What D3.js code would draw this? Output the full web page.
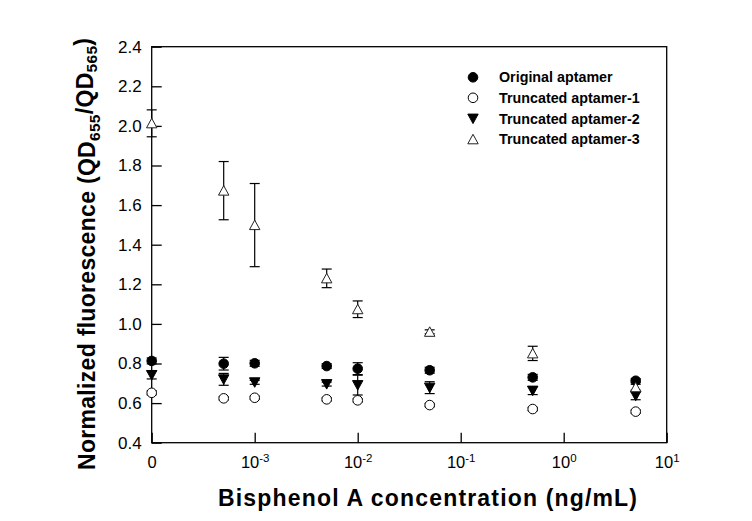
<!DOCTYPE html>
<html><head><meta charset="utf-8">
<script src="https://cdn.jsdelivr.net/npm/d3@7/dist/d3.min.js"></script>
<style>
body{margin:0;background:#fff;}
text{font-family:Arial,"Liberation Sans",sans-serif;}
</style></head>
<body><svg id="c" width="752" height="521"></svg>
<script>
// concentrations (ng/mL); 0 is drawn at the left axis position
const concentrations = [0, 5e-4, 1e-3, 5e-3, 1e-2, 5e-2, 5e-1, 5];
const seriesNames = ["Original aptamer","Truncated aptamer-1","Truncated aptamer-2","Truncated aptamer-3"];
const originalMean = [0.813, 0.799, 0.801, 0.787, 0.774, 0.766, 0.730, 0.713];
const originalErr  = [0.015, 0.032, 0.015, 0.012, 0.030, 0.015, 0.015, 0.010];
const trunc1Mean   = [0.652, 0.624, 0.627, 0.619, 0.614, 0.590, 0.570, 0.557];
const trunc1Err    = [0.010, 0.008, 0.008, 0.008, 0.008, 0.008, 0.008, 0.008];
const trunc2Mean   = [0.742, 0.720, 0.705, 0.696, 0.691, 0.678, 0.663, 0.637];
const trunc2Err    = [0.020, 0.030, 0.010, 0.010, 0.050, 0.030, 0.020, 0.020];
const trunc3Mean   = [2.013, 1.673, 1.499, 1.230, 1.074, 0.960, 0.851, 0.680];
const trunc3Err    = [0.068, 0.147, 0.210, 0.047, 0.042, 0.010, 0.036, 0.015];
const yTicks = [0.4,0.6,0.8,1.0,1.2,1.4,1.6,1.8,2.0,2.2,2.4];
const xTickValues = [1e-4, 1e-3, 1e-2, 1e-1, 1, 10];
const xTickLabels = ["0", "-3", "-2", "-1", "0", "1"];

const svg = d3.select("#c");
const L=151.7, R=666.7, T=46.7, B=442.7;
const zeroPos = 1e-4;
const x = d3.scaleLog().domain([1e-4, 10]).range([L, R]);
const y = d3.scaleLinear().domain([0.4, 2.4]).range([B, T]);
const px = c => x(c === 0 ? zeroPos : c);

// frame
svg.append("rect").attr("x",L).attr("y",T).attr("width",R-L).attr("height",B-T)
  .attr("fill","none").attr("stroke","#000").attr("stroke-width",1.3);

// y axis
const ya = svg.append("g").attr("transform",`translate(${L},0)`)
  .call(d3.axisLeft(y).tickValues(yTicks).tickSize(-10).tickPadding(10).tickFormat(d3.format(".1f")));
ya.select(".domain").remove();
ya.selectAll("line").attr("stroke-width",1.3);
ya.selectAll("text").attr("font-size",17).attr("fill","#000");

// x axis
const xa = svg.append("g").attr("transform",`translate(0,${B})`)
  .call(d3.axisBottom(x).tickValues(xTickValues).tickSize(-10).tickPadding(14).tickFormat(""));
xa.select(".domain").remove();
xa.selectAll("line").attr("stroke-width",1.3);
xa.selectAll(".tick text").each(function(d,i){
  const t = d3.select(this).attr("font-size",16.5).attr("fill","#000").attr("dy","0.71em");
  if(i===0){ t.text(xTickLabels[i]); }
  else {
    t.append("tspan").text("10");
    t.append("tspan").attr("font-size",11.5).attr("dy","-0.55em").text(xTickLabels[i]);
  }
});

// series
const series = [
  {name:seriesNames[0], mean:originalMean, err:originalErr, type:"circle", fill:"#000"},
  {name:seriesNames[1], mean:trunc1Mean, err:trunc1Err, type:"circle", fill:"#fff"},
  {name:seriesNames[2], mean:trunc2Mean, err:trunc2Err, type:"down", fill:"#000"},
  {name:seriesNames[3], mean:trunc3Mean, err:trunc3Err, type:"up", fill:"#fff"}
];
function marker(g, type, fill){
  if(type==="circle") g.append("circle").attr("r",4.8).attr("fill",fill).attr("stroke","#000").attr("stroke-width",1);
  else if(type==="down") g.append("path").attr("d","M-5.2,-4.5L5.2,-4.5L0,5Z").attr("fill",fill).attr("stroke","#000").attr("stroke-width",1);
  else g.append("path").attr("d","M-5.2,4.5L5.2,4.5L0,-5Z").attr("fill",fill).attr("stroke","#222").attr("stroke-width",1);
}
const cap = 5;
series.forEach(s=>{
  const g = svg.append("g");
  concentrations.forEach((c,i)=>{
    const cx = px(c), y1 = y(s.mean[i]+s.err[i]), y2 = y(s.mean[i]-s.err[i]);
    g.append("line").attr("x1",cx).attr("x2",cx).attr("y1",y1).attr("y2",y2).attr("stroke","#000").attr("stroke-width",1.2);
    g.append("line").attr("x1",cx-cap).attr("x2",cx+cap).attr("y1",y1).attr("y2",y1).attr("stroke","#000").attr("stroke-width",1.2);
    g.append("line").attr("x1",cx-cap).attr("x2",cx+cap).attr("y1",y2).attr("y2",y2).attr("stroke","#000").attr("stroke-width",1.2);
  });
});
series.forEach(s=>{
  concentrations.forEach((c,i)=>{
    const g = svg.append("g").attr("transform",`translate(${px(c)},${y(s.mean[i])})`);
    marker(g, s.type, s.fill);
  });
});

// legend
const legY = [77.3, 97.8, 118.6, 139.3];
series.forEach((s,i)=>{
  const g = svg.append("g").attr("transform",`translate(473,${legY[i]})`);
  marker(g, s.type, s.fill);
  svg.append("text").attr("x",499).attr("y",legY[i]).attr("dy","0.36em")
    .attr("font-size",14.3).attr("font-weight","bold").text(s.name);
});

// axis titles
svg.append("text").attr("x",427.5).attr("y",506).attr("text-anchor","middle")
  .attr("font-size",23).attr("font-weight","bold")
  .attr("textLength",419).attr("lengthAdjust","spacing")
  .text("Bisphenol A concentration (ng/mL)");
const yt = svg.append("text").attr("transform","translate(95,254) rotate(-90)").attr("text-anchor","middle")
  .attr("font-size",23).attr("font-weight","bold")
  .attr("textLength",432).attr("lengthAdjust","spacing");
yt.append("tspan").text("Normalized fluorescence (QD");
yt.append("tspan").attr("font-size",15.5).attr("dy","0.3em").text("655");
yt.append("tspan").attr("dy","-0.3em").text("/QD");
yt.append("tspan").attr("font-size",15.5).attr("dy","0.3em").text("565");
yt.append("tspan").attr("dy","-0.3em").text(")");
</script></body></html>
